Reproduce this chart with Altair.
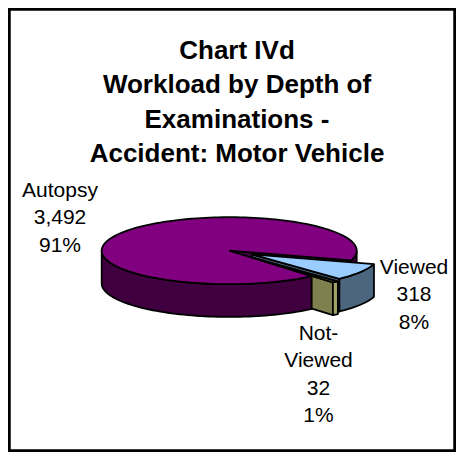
import math
import pandas as pd
import altair as alt

# ---- data ----
categories = ["Autopsy", "Viewed", "Not-Viewed"]
counts = [3492, 318, 32]
label_lines = [["Autopsy"], ["Viewed"], ["Not-", "Viewed"]]
title_lines = ["Chart IVd", "Workload by Depth of", "Examinations -", "Accident: Motor Vehicle"]

# ---- styles / layout ----
top_colors = ["#800080", "#99CCFF", "#4A4A2E"]
side_colors = ["#400040", "#4D6680", "#80804F"]
wall_colors = ["#400040", "#4D6680", "#A3A366"]
explode = [0.0, 0.21, 0.25]

W, H = 446, 442
CX, CY, RX, RY, DEPTH = 220.2, 241.7, 127.5, 33.5, 32.7
START = 49.7
label_xy = [(51, 188), (405, 265), (309.5, 331)]

total = sum(counts)
pcts = [round(100 * c / total) for c in counts]

a0s, a1s = [], []
a = START
for c in counts:
    s = 360.0 * c / total
    a0s.append(a)
    a1s.append(a + s)
    a += s

offs = []
for i in range(len(counts)):
    mid = math.radians((a0s[i] + a1s[i]) / 2)
    offs.append((explode[i] * RX * math.cos(mid), explode[i] * RY * math.sin(mid)))


def rim(t, off, drop=0.0):
    r = math.radians(t)
    return (CX + off[0] + RX * math.cos(r), CY + off[1] + RY * math.sin(r) + drop)


def cen(off, drop=0.0):
    return (CX + off[0], CY + off[1] + drop)


def arc(s, e, off, drop=0.0):
    n = max(2, int(math.ceil(abs(e - s) / 2.0)) + 1)
    return [rim(s + (e - s) * j / (n - 1), off, drop) for j in range(n)]


def top_face(i):
    off = offs[i]
    return [cen(off)] + arc(a0s[i], a1s[i], off)


def end_face(i, t):
    off = offs[i]
    return [cen(off), rim(t, off), rim(t, off, DEPTH), cen(off, DEPTH)]


def walls(i):
    out = []
    for k in (0, 1):
        lo, hi = 360 * k, 360 * k + 180
        s, e = max(a0s[i], lo), min(a1s[i], hi)
        if e > s:
            off = offs[i]
            out.append(arc(s, e, off) + arc(e, s, off, DEPTH))
    return out


polys = []  # (id, fill, points) in drawing order
polys.append(("f0", side_colors[0], end_face(0, a1s[0])))
polys.append(("f1", side_colors[1], end_face(1, a1s[1])))
polys.append(("f2", side_colors[2], end_face(2, a1s[2])))
for j, w in enumerate(walls(0)):
    polys.append((f"w0_{j}", wall_colors[0], w))
polys.append(("t0", top_colors[0], top_face(0)))
for j, w in enumerate(walls(1)):
    polys.append((f"w1_{j}", wall_colors[1], w))
polys.append(("t1", top_colors[1], top_face(1)))
for j, w in enumerate(walls(2)):
    polys.append((f"w2_{j}", wall_colors[2], w))
polys.append(("t2", top_colors[2], top_face(2)))

rows = []
for pid, col, pts in polys:
    pts = pts + [pts[0]]
    for k, (x, y) in enumerate(pts):
        rows.append({"poly": pid, "k": k, "x": x, "y": y})
df = pd.DataFrame(rows)

xs = alt.X("x:Q", scale=alt.Scale(domain=[0, W], nice=False, zero=False), axis=None)
ys = alt.Y("y:Q", scale=alt.Scale(domain=[0, H], reverse=True, nice=False, zero=False), axis=None)

layers = []
for pid, col, pts in polys:
    layers.append(
        alt.Chart(df)
        .transform_filter(alt.datum.poly == pid)
        .mark_line(fill=col, stroke="black", strokeWidth=1.8, strokeJoin="round", interpolate="linear")
        .encode(x=xs, y=ys, order="k:Q")
    )

lab = pd.DataFrame({
    "text": ["\n".join(label_lines[i] + [f"{counts[i]:,}", f"{pcts[i]}%"]) for i in range(len(counts))],
    "x": [p[0] for p in label_xy],
    "y": [p[1] for p in label_xy],
})
labels = alt.Chart(lab).mark_text(
    font="Liberation Sans", fontSize=21, lineBreak="\n", lineHeight=27.3,
    align="center", baseline="alphabetic", color="black"
).encode(x=xs, y=ys, text="text:N")

title = alt.Chart(pd.DataFrame({"t": ["\n".join(title_lines)]})).mark_text(
    font="Liberation Sans", fontSize=26, fontWeight="bold", lineBreak="\n", lineHeight=34.4,
    align="center", baseline="alphabetic", color="black"
).encode(text="t:N", x=alt.value(228), y=alt.value(50))

chart = alt.layer(*layers, labels, title).properties(
    width=W, height=H, padding={"left": 1, "top": 1, "right": 1, "bottom": 1},
    autosize="none", background="white"
).configure_view(stroke="black", strokeWidth=3.5)

chart.save("out.html", embed_options={"renderer": "svg", "actions": False})
